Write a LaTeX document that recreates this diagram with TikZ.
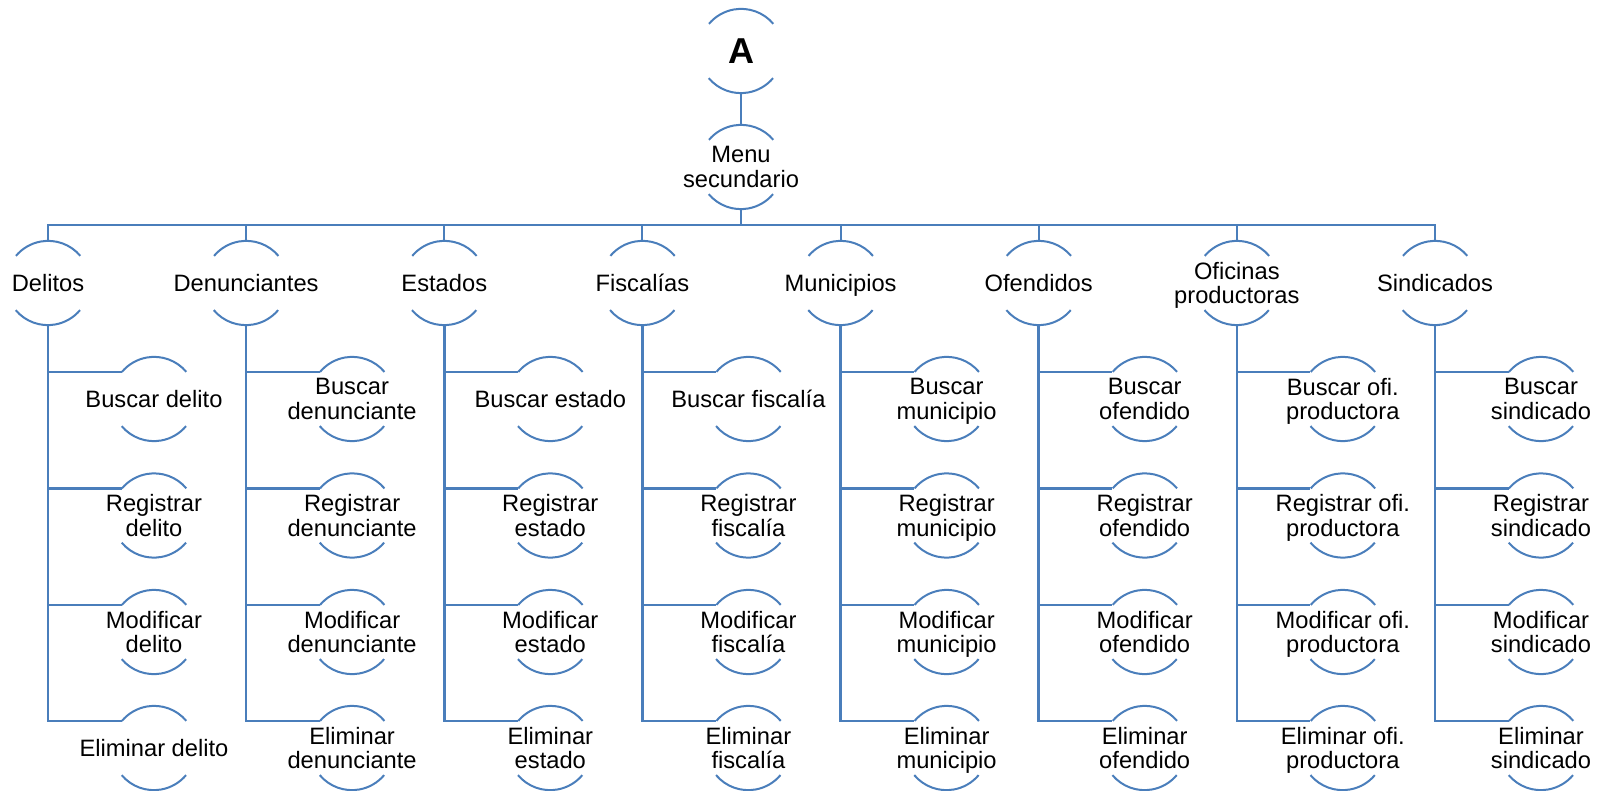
\documentclass[tikz,border=0pt]{standalone}
\usepackage{fontspec}
\setmainfont{Liberation Sans}
\definecolor{lineblue}{HTML}{4A7EBB}
\tikzset{
  ring/.style={circle, minimum size=84pt, inner sep=0pt, draw=none},
  lbl/.style={align=center, font=\fontsize{23.7pt}{24.5pt}\selectfont, inner sep=0pt, text depth=0pt},
  big/.style={font=\fontsize{36pt}{40pt}\selectfont\bfseries, inner sep=0pt, text depth=0pt},
  ln/.style={draw=lineblue, line width=2pt},
  stem/.style={draw=lineblue, line width=2.5pt},
}
\newcommand\bubble[5][lbl]{%
  \node[ring] (#2) at (#3,#4) {};
  \node[#1] (#2-t) at (#2.center) {#5};
  \draw[ln] (#2.40) arc[start angle=40,end angle=140,radius=42pt];
  \draw[ln] (#2.220) arc[start angle=220,end angle=320,radius=42pt];
}
\begin{document}
\begin{tikzpicture}[x=1pt,y=-1pt]
\useasboundingbox (0,0) rectangle (1613,791);
% top
\bubble[big]{A}{741}{51}{A}
\bubble{M}{741}{167}{Menu\\secundario}
\draw[ln] (A.south) -- (M.north);
\coordinate (bus) at (741,225);
\draw[ln] (M.south) -- (bus);
% level 1
\bubble{L0}{48}{283}{Delitos}
\bubble{L1}{246.1}{283}{Denunciantes}
\bubble{L2}{444.3}{283}{Estados}
\bubble{L3}{642.4}{283}{Fiscalías}
\bubble{L4}{840.6}{283}{Municipios}
\bubble{L5}{1038.7}{283}{Ofendidos}
\bubble{L6}{1236.8}{283}{Oficinas\\productoras}
\bubble{L7}{1435}{283}{Sindicados}
\foreach \k in {0,...,7} { \draw[ln] (L\k.north) |- (bus); }
% children
\bubble{C0a}{154}{399}{Buscar delito}
\bubble{C0b}{154}{515.5}{Registrar\\delito}
\bubble{C0c}{154}{632}{Modificar\\delito}
\bubble{C0d}{154}{748}{Eliminar delito}
\bubble{C1a}{352.1}{399}{Buscar\\denunciante}
\bubble{C1b}{352.1}{515.5}{Registrar\\denunciante}
\bubble{C1c}{352.1}{632}{Modificar\\denunciante}
\bubble{C1d}{352.1}{748}{Eliminar\\denunciante}
\bubble{C2a}{550.3}{399}{Buscar estado}
\bubble{C2b}{550.3}{515.5}{Registrar\\estado}
\bubble{C2c}{550.3}{632}{Modificar\\estado}
\bubble{C2d}{550.3}{748}{Eliminar\\estado}
\bubble{C3a}{748.4}{399}{Buscar fiscalía}
\bubble{C3b}{748.4}{515.5}{Registrar\\fiscalía}
\bubble{C3c}{748.4}{632}{Modificar\\fiscalía}
\bubble{C3d}{748.4}{748}{Eliminar\\fiscalía}
\bubble{C4a}{946.6}{399}{Buscar\\municipio}
\bubble{C4b}{946.6}{515.5}{Registrar\\municipio}
\bubble{C4c}{946.6}{632}{Modificar\\municipio}
\bubble{C4d}{946.6}{748}{Eliminar\\municipio}
\bubble{C5a}{1144.7}{399}{Buscar\\ofendido}
\bubble{C5b}{1144.7}{515.5}{Registrar\\ofendido}
\bubble{C5c}{1144.7}{632}{Modificar\\ofendido}
\bubble{C5d}{1144.7}{748}{Eliminar\\ofendido}
\bubble{C6a}{1342.8}{399}{Buscar ofi.\\productora}
\bubble{C6b}{1342.8}{515.5}{Registrar ofi.\\productora}
\bubble{C6c}{1342.8}{632}{Modificar ofi.\\productora}
\bubble{C6d}{1342.8}{748}{Eliminar ofi.\\productora}
\bubble{C7a}{1541}{399}{Buscar\\sindicado}
\bubble{C7b}{1541}{515.5}{Registrar\\sindicado}
\bubble{C7c}{1541}{632}{Modificar\\sindicado}
\bubble{C7d}{1541}{748}{Eliminar\\sindicado}
\foreach \k in {0,...,7} {
  \foreach \s in {a,b,c,d} { \draw[stem] (L\k.south) |- (C\k\s.140); }
}
\end{tikzpicture}
\end{document}
